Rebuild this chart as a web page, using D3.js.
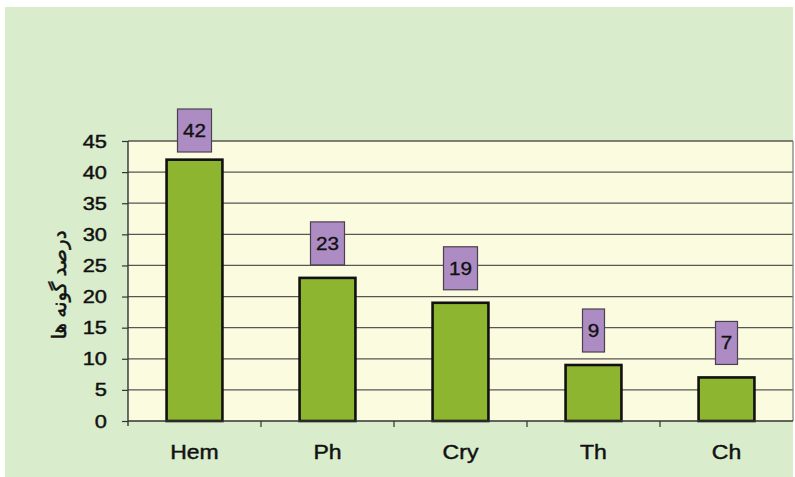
<!DOCTYPE html>
<html>
<head>
<meta charset="utf-8">
<script src="https://cdn.jsdelivr.net/npm/d3@7"></script>
<style>
  html, body { margin: 0; padding: 0; background: #ffffff; }
  svg { display: block; }
</style>
</head>
<body>
<svg id="chart" width="795" height="477"></svg>
<script>
// Life-form spectrum: share of species (percent) per Raunkiaer class
const categories = ["Hem", "Ph", "Cry", "Th", "Ch"];
const percents = [42, 23, 19, 9, 7];
const yTicks = [0, 5, 10, 15, 20, 25, 30, 35, 40, 45];
const yTitle = "درصد گونه ها";

const W = 795, H = 477;
const plot = { left: 128, right: 793, top: 141, bottom: 421 };
const font = "'Liberation Sans', Arial, sans-serif";
const stretch = 1.15; // slightly wide lettering

const svg = d3.select("#chart");

// page backdrop
svg.append("rect").attr("x", 5).attr("y", 7).attr("width", 788).attr("height", H - 7)
  .attr("fill", "#d9eccb");

const x = d3.scaleBand().domain(categories).range([plot.left, plot.right])
  .paddingInner(0.58).paddingOuter(0.29);
const y = d3.scaleLinear().domain([0, 45]).range([plot.bottom, plot.top]);

// plot area
svg.append("rect")
  .attr("x", plot.left).attr("y", plot.top)
  .attr("width", plot.right - plot.left).attr("height", plot.bottom - plot.top)
  .attr("fill", "#fbfbe0");

// horizontal gridlines
svg.append("g").selectAll("line").data(yTicks.filter(d => d > 0)).join("line")
  .attr("x1", plot.left).attr("x2", plot.right)
  .attr("y1", d => y(d)).attr("y2", d => y(d))
  .attr("stroke", "#5a5454").attr("stroke-width", 1.3);

// right border of plot area
svg.append("line").attr("x1", plot.right).attr("x2", plot.right)
  .attr("y1", plot.top).attr("y2", plot.bottom)
  .attr("stroke", "#7a7878").attr("stroke-width", 1.2);

// bars
svg.append("g").selectAll("rect").data(percents).join("rect")
  .attr("x", (d, i) => x(categories[i]))
  .attr("y", d => y(d))
  .attr("width", x.bandwidth())
  .attr("height", d => y(0) - y(d))
  .attr("fill", "#8db52f")
  .attr("stroke", "#111")
  .attr("stroke-width", 2.6);

// widen a text element horizontally around its anchor point
function widen(sel) {
  sel.each(function () {
    const t = d3.select(this);
    const tx = +t.attr("x") || 0;
    t.attr("x", 0).attr("transform", `translate(${tx},0) scale(${stretch},1)`);
  });
}

// y axis
const yAxis = d3.axisLeft(y).tickValues(yTicks).tickSize(6).tickPadding(15);
const gy = svg.append("g").attr("transform", `translate(${plot.left},0)`).call(yAxis);
gy.select(".domain").attr("stroke", "#333").attr("stroke-width", 1.4)
  .attr("d", `M0,${plot.top}V${plot.bottom + 5}`);
gy.selectAll(".tick line").attr("stroke", "#333").attr("stroke-width", 1.2);
gy.selectAll(".tick text").attr("font-family", font).attr("font-size", 19)
  .attr("fill", "#111").attr("stroke", "#111").attr("stroke-width", 0.45)
  .call(widen);

// x axis
const xAxis = d3.axisBottom(x).tickSize(0).tickPadding(24);
const gx = svg.append("g").attr("transform", `translate(0,${plot.bottom})`).call(xAxis);
gx.select(".domain").attr("stroke", "#333").attr("stroke-width", 1.4)
  .attr("d", `M${plot.left},0H${plot.right}`);
gx.selectAll(".tick text").attr("font-family", font).attr("font-size", 20)
  .attr("fill", "#111").attr("stroke", "#111").attr("stroke-width", 0.45)
  .call(widen);
// category separator ticks
const seps = categories.slice(1).map(c => x(c) - x.step() * x.paddingInner() / 2);
svg.append("g").selectAll("line").data(seps).join("line")
  .attr("x1", d => d).attr("x2", d => d)
  .attr("y1", plot.bottom).attr("y2", plot.bottom + 6)
  .attr("stroke", "#333").attr("stroke-width", 1.2);

// axis title
svg.append("text")
  .attr("transform", "translate(58,285) rotate(-90)")
  .attr("text-anchor", "middle").attr("dominant-baseline", "central")
  .attr("font-family", "'Noto Sans', 'DejaVu Sans', sans-serif")
  .attr("font-size", 20).attr("fill", "#111")
  .attr("stroke", "#111").attr("stroke-width", 0.5)
  .attr("direction", "rtl")
  .text(yTitle);

// value labels in boxes above the bars
const boxH = 43;
const labels = svg.append("g").selectAll("g").data(percents).join("g")
  .attr("transform", (d, i) => {
    const cx = x(categories[i]) + x.bandwidth() / 2;
    const top = Math.max(109, y(d) - 13 - boxH);
    return `translate(${cx},${top})`;
  });
labels.append("rect")
  .attr("x", d => String(d).length > 1 ? -17 : -11)
  .attr("width", d => String(d).length > 1 ? 34 : 22)
  .attr("height", boxH)
  .attr("fill", "#ad8cc3").attr("stroke", "#4a4150").attr("stroke-width", 1.2);
labels.append("text")
  .attr("y", boxH / 2).attr("dominant-baseline", "central")
  .attr("text-anchor", "middle")
  .attr("font-family", font).attr("font-size", 18).attr("fill", "#111")
  .attr("stroke", "#111").attr("stroke-width", 0.35)
  .attr("transform", `scale(${stretch},1)`)
  .text(d => d);
</script>
</body>
</html>
